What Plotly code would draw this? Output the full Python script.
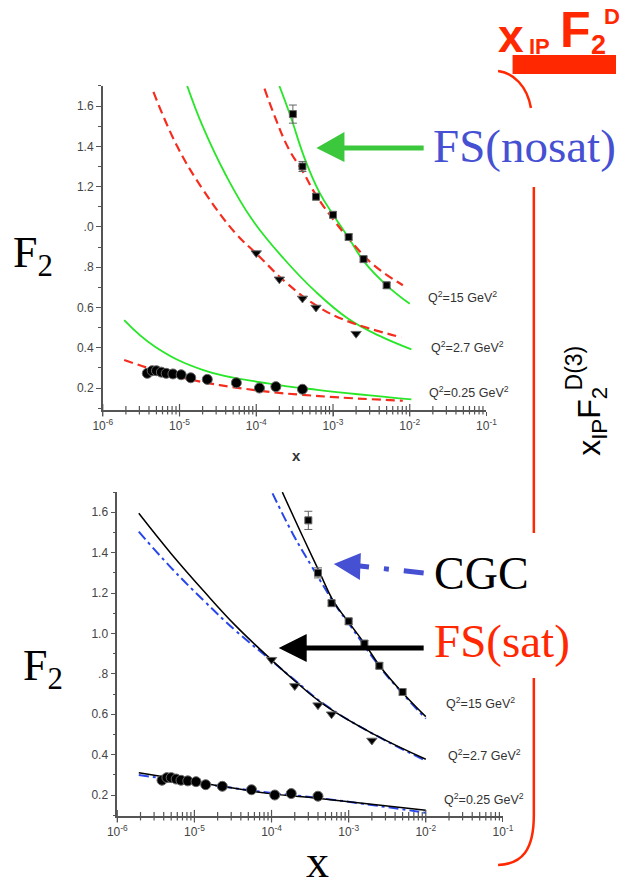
import plotly.graph_objects as go

W, H = 627, 889

# ---------------- data ----------------
# H1 measurements (same in both panels)
sq_x = [3.0e-4, 4.0e-4, 6.0e-4, 1.0e-3, 1.6e-3, 2.5e-3, 5.0e-3]          # Q2 = 15 GeV2
sq_y = [1.56, 1.30, 1.15, 1.06, 0.95, 0.84, 0.71]
sq_err = [0.045, 0.025, 0.015, 0.015, 0.015, 0.015, 0.015]
tri_x = [1.0e-4, 2.0e-4, 4.0e-4, 6.0e-4, 2.0e-3]                         # Q2 = 2.7 GeV2
tri_y = [0.87, 0.74, 0.645, 0.60, 0.47]
circ_x = [3.8e-6, 4.4e-6, 5.0e-6, 5.8e-6, 6.7e-6, 8.2e-6, 1.05e-5, 1.4e-5,
          2.3e-5, 5.5e-5, 1.1e-4, 1.8e-4, 4.0e-4]                          # Q2 = 0.25 GeV2
circ_y = [0.273, 0.286, 0.286, 0.279, 0.273, 0.270, 0.266, 0.251,
          0.243, 0.226, 0.200, 0.207, 0.194]

# top panel: FS (nosat) green solid, FS dashed red
g15_x = [2.0e-4, 2.77e-4, 4.29e-4, 6.62e-4, 1.02e-3, 1.58e-3, 2.57e-3, 5.0e-3, 1.0e-2]
g15_y = [1.70, 1.554, 1.338, 1.173, 1.057, 0.949, 0.825, 0.710, 0.618]
r15_x = [1.28e-4, 1.79e-4, 2.64e-4, 4.08e-4, 6.03e-4, 1.07e-3, 1.91e-3, 3.43e-3, 8.13e-3]
r15_y = [1.686, 1.537, 1.388, 1.272, 1.157, 1.024, 0.908, 0.809, 0.710]
g27_x = [1.26e-5, 2.0e-5, 3.98e-5, 8.7e-5, 2.29e-4, 6.03e-4, 1.58e-3, 3.98e-3, 1.05e-2]
g27_y = [1.70, 1.50, 1.26, 1.04, 0.842, 0.676, 0.544, 0.46, 0.392]
r27_x = [4.57e-6, 9.33e-6, 2.04e-5, 5.37e-5, 1.0e-4, 2.51e-4, 6.03e-4, 1.45e-3, 7.76e-3]
r27_y = [1.67, 1.40, 1.183, 0.968, 0.868, 0.720, 0.61, 0.536, 0.452]
g025_x = [1.9e-6, 4.8e-6, 2.04e-5, 1.41e-4, 6.6e-4, 1.05e-2]
g025_y = [0.537, 0.405, 0.289, 0.223, 0.19, 0.144]
r025_x = [1.9e-6, 1.2e-5, 9.55e-5, 6.6e-4, 8.13e-3]
r025_y = [0.339, 0.248, 0.19, 0.16, 0.137]

# bottom panel: FS (sat) black solid, CGC blue dash-dot
k15_x = [1.38e-4, 2.57e-4, 4.17e-4, 6.41e-4, 9.89e-4, 1.6e-3, 2.59e-3, 5.07e-3, 1.0e-2]
k15_y = [1.70, 1.475, 1.305, 1.157, 1.058, 0.951, 0.834, 0.704, 0.588]
b15_x = [1.03e-4, 1.92e-4, 3.43e-4, 6.73e-4, 1.0e-3, 2.59e-3, 5.07e-3, 1.0e-2]
b15_y = [1.694, 1.488, 1.323, 1.141, 1.05, 0.83, 0.70, 0.578]
k27_x = [1.9e-6, 5.0e-6, 1.32e-5, 3.39e-5, 1.0e-4, 1.91e-4, 5.0e-4, 2.14e-3, 1.0e-2]
k27_y = [1.595, 1.395, 1.21, 1.04, 0.869, 0.772, 0.642, 0.50, 0.377]
b27_x = k27_x
b27_y = [1.504, 1.325, 1.163, 1.015, 0.865, 0.775, 0.645, 0.50, 0.37]
k025_x = [1.9e-6, 1.32e-5, 8.9e-5, 4.17e-4, 1.0e-2]
k025_y = [0.310, 0.258, 0.208, 0.183, 0.125]
b025_x = k025_x
b025_y = [0.299, 0.255, 0.212, 0.185, 0.112]

x_major = [1e-6, 1e-5, 1e-4, 1e-3, 1e-2, 1e-1]
x_major_text = ["10<sup>-6</sup>", "10<sup>-5</sup>", "10<sup>-4</sup>",
                "10<sup>-3</sup>", "10<sup>-2</sup>", "10<sup>-1</sup>"]
x_minor = [m * d for d in x_major[:-1] for m in range(2, 10)]
y_tickvals = [0.2, 0.4, 0.6, 0.8, 1.0, 1.2, 1.4, 1.6]
y_ticktext_top = ["0.2", "0.4", "0.6", ".8", ".0", "1.2", "1.4", "1.6"]
y_ticktext_bot = ["0.2", "0.4", "0.6", ".8", "1.0", "1.2", "1.4", "1.6"]
q2_labels = ["Q<sup>2</sup>=15 GeV<sup>2</sup>", "Q<sup>2</sup>=2.7 GeV<sup>2</sup>",
             "Q<sup>2</sup>=0.25 GeV<sup>2</sup>"]
y_range_top = [0.09, 1.7]
y_range_bot = [0.095, 1.7]

# ---------------- styles ----------------
GREEN = "rgb(40,230,40)"
RED_D = "rgb(245,45,30)"
BLUE = "rgb(40,70,235)"
RED = "rgb(255,40,0)"
ARROW_GREEN = "rgb(60,200,60)"
ARROW_BLUE = "rgb(70,80,210)"


def X(p):
    return p / W


def Y(p):
    return 1 - p / H


fig = go.Figure()


def add_data(xa, ya):
    fig.add_trace(go.Scatter(x=sq_x, y=sq_y, mode="markers", xaxis=xa, yaxis=ya,
                             marker=dict(symbol="square", size=7, color="black",
                                         line=dict(color="#666", width=1)),
                             error_y=dict(type="data", array=sq_err, color="#666",
                                          thickness=1, width=4)))
    fig.add_trace(go.Scatter(x=tri_x, y=tri_y, mode="markers", xaxis=xa, yaxis=ya,
                             marker=dict(symbol="triangle-down", size=9, color="black",
                                         line=dict(color="#666", width=1))))
    fig.add_trace(go.Scatter(x=circ_x, y=circ_y, mode="markers", xaxis=xa, yaxis=ya,
                             marker=dict(symbol="circle", size=10, color="black",
                                         line=dict(color="#666", width=1))))


def add_line(xs, ys, xa, ya, color, width, dash="solid"):
    fig.add_trace(go.Scatter(x=xs, y=ys, mode="lines", xaxis=xa, yaxis=ya,
                             line=dict(color=color, width=width, dash=dash,
                                       shape="spline", smoothing=1.2)))


def add_xticks(xa, ya, ybase):
    # log-axis tick marks crossing the axis line, as in the original plot
    for vals, size in [(x_major, 9), (x_minor, 6)]:
        fig.add_trace(go.Scatter(x=vals, y=[ybase] * len(vals), mode="markers",
                                 xaxis=xa, yaxis=ya, cliponaxis=False, hoverinfo="skip",
                                 marker=dict(symbol="line-ns", size=size,
                                             line=dict(color="#555", width=1.2))))


# top panel
for xs, ys in [(g15_x, g15_y), (g27_x, g27_y), (g025_x, g025_y)]:
    add_line(xs, ys, "x", "y", GREEN, 1.8)
for xs, ys in [(r15_x, r15_y), (r27_x, r27_y), (r025_x, r025_y)]:
    add_line(xs, ys, "x", "y", RED_D, 2.2, "9px,5px")
add_data("x", "y")
add_xticks("x", "y", y_range_top[0])

# bottom panel
for xs, ys in [(b15_x, b15_y), (b27_x, b27_y), (b025_x, b025_y)]:
    add_line(xs, ys, "x2", "y2", BLUE, 2, "10px,4px,3px,4px")
for xs, ys in [(k15_x, k15_y), (k27_x, k27_y), (k025_x, k025_y)]:
    add_line(xs, ys, "x2", "y2", "black", 1.5)
add_data("x2", "y2")
add_xticks("x2", "y2", y_range_bot[0])

axis_common = dict(showline=True, linecolor="#555", linewidth=1.5,
                   tickcolor="#555", tickwidth=1.2, showgrid=False, zeroline=False,
                   mirror=False, tickfont=dict(family="Liberation Sans", size=12, color="#444"))

xcommon = dict(type="log", range=[-6, -1], tickmode="array", tickvals=x_major,
               ticktext=x_major_text, ticks="outside", ticklen=4, **axis_common)

fig.update_layout(
    width=W, height=H, margin=dict(l=0, r=0, t=0, b=0),
    paper_bgcolor="white", plot_bgcolor="white", showlegend=False,
    xaxis=dict(domain=[X(96), X(493)], anchor="y", **xcommon),
    yaxis=dict(domain=[Y(410.2), Y(85.9)], anchor="x", range=y_range_top, ticks="outside",
               ticklen=5, tickvals=y_tickvals, ticktext=y_ticktext_top,
               minor=dict(ticks="outside", ticklen=3, tickcolor="#555", dtick=0.1, tick0=0),
               **axis_common),
    xaxis2=dict(domain=[X(111), X(510)], anchor="y2", **xcommon),
    yaxis2=dict(domain=[Y(816.2), Y(492.1)], anchor="x2", range=y_range_bot, ticks="outside",
                ticklen=5, tickvals=y_tickvals, ticktext=y_ticktext_bot,
                minor=dict(ticks="outside", ticklen=3, tickcolor="#555", dtick=0.1, tick0=0),
                **axis_common),
)

ann = []


def text(px, py, s, size, color="black", family="Liberation Serif", xanchor="center",
         yanchor="middle", angle=0, bold=False):
    if bold:
        s = "<b>" + s + "</b>"
    ann.append(dict(x=X(px), y=Y(py), xref="paper", yref="paper", text=s, showarrow=False,
                    xanchor=xanchor, yanchor=yanchor, textangle=angle,
                    font=dict(family=family, size=size, color=color)))


# Q2 labels
for s, (px, py) in zip(q2_labels, [(430, 297), (434, 347), (431, 392)]):
    text(px, py, s, 12.5, "#333", "Liberation Sans", xanchor="left")
for s, (px, py) in zip(q2_labels, [(449, 703), (451, 755), (447, 799)]):
    text(px, py, s, 12.5, "#333", "Liberation Sans", xanchor="left")

# axis titles
text(296, 456, "x", 15, "#333", "Liberation Sans", bold=True)
text(318, 889, "x", 46, yanchor="bottom")
text(1, 255, "F<sub>2</sub>", 44, xanchor="left")
text(11, 668, "F<sub>2</sub>", 44, xanchor="left")

# legend-like callouts
text(436, 146, "FS(nosat)", 47, ARROW_BLUE, xanchor="left")
text(437, 573, "CGC", 46, "black", xanchor="left")
text(437, 641, "FS(sat)", 47, RED, xanchor="left")

# rotated diffractive label
text(601, 421, "x<sub>IP</sub>F<sub>2</sub>", 32, "black", "Liberation Sans", angle=-90)
text(584, 368, "D(3)", 23, "black", "Liberation Sans", angle=-90)

# red header at top-right
text(518, 36, "x", 46, RED, "Liberation Sans", bold=True)
text(548, 47, "IP", 22, RED, "Liberation Sans", bold=True)
text(585, 30, "F", 50, RED, "Liberation Sans", bold=True)
text(609, 45, "2", 27, RED, "Liberation Sans", bold=True)
text(623, 16, "D", 22, RED, "Liberation Sans", bold=True)

fig.update_layout(annotations=ann)


def path(points_cmds):
    out = []
    for cmd, pts in points_cmds:
        coords = " ".join(f"{X(a):.5f},{Y(b):.5f}" for a, b in pts)
        out.append(f"{cmd} {coords}")
    return " ".join(out)


shapes = []
# green arrow
shapes.append(dict(type="line", xref="paper", yref="paper", x0=X(344), y0=Y(148),
                   x1=X(428), y1=Y(148), line=dict(color=ARROW_GREEN, width=5)))
shapes.append(dict(type="path", xref="paper", yref="paper",
                   path=path([("M", [(317, 148)]), ("L", [(346, 132)]), ("L", [(346, 162)])]) + " Z",
                   fillcolor=ARROW_GREEN, line=dict(width=0)))
# blue dash-dot arrow
shapes.append(dict(type="line", xref="paper", yref="paper", x0=X(428), y0=Y(573),
                   x1=X(362), y1=Y(566), line=dict(color=ARROW_BLUE, width=5,
                                                   dash="20px,15px,5px,15px")))
shapes.append(dict(type="path", xref="paper", yref="paper",
                   path=path([("M", [(335, 564)]), ("L", [(363, 553)]), ("L", [(362, 580)])]) + " Z",
                   fillcolor=ARROW_BLUE, line=dict(width=0)))
# black arrow
shapes.append(dict(type="line", xref="paper", yref="paper", x0=X(305), y0=Y(648),
                   x1=X(428), y1=Y(648), line=dict(color="black", width=5)))
shapes.append(dict(type="path", xref="paper", yref="paper",
                   path=path([("M", [(278, 648)]), ("L", [(307, 634)]), ("L", [(307, 662)])]) + " Z",
                   fillcolor="black", line=dict(width=0)))
# red bracket
shapes.append(dict(type="path", xref="paper", yref="paper",
                   path=path([("M", [(505, 71)]), ("C", [(521, 73), (535, 86), (539, 108)])]),
                   line=dict(color=RED, width=2.5)))
shapes.append(dict(type="line", xref="paper", yref="paper", x0=X(542), y0=Y(187),
                   x1=X(542), y1=Y(533), line=dict(color=RED, width=2.5)))
shapes.append(dict(type="path", xref="paper", yref="paper",
                   path=path([("M", [(542, 678)]), ("L", [(542, 815)]),
                              ("C", [(542, 850), (530, 864), (505, 865)])]),
                   line=dict(color=RED, width=2.5)))
shapes.append(dict(type="rect", xref="paper", yref="paper", x0=X(520), y0=Y(74),
                   x1=X(627), y1=Y(55), fillcolor=RED, line=dict(width=0)))

fig.update_layout(shapes=shapes)
fig.write_html("out.html")
